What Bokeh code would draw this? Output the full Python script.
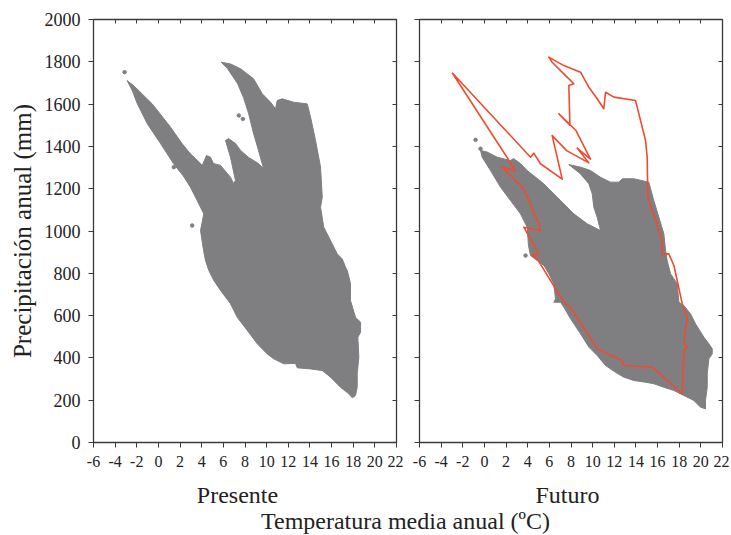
from bokeh.plotting import figure
from bokeh.models import Range1d, LinearAxis, FixedTicker, Title
from bokeh.layouts import row, column
from bokeh.embed import file_html
from bokeh.resources import INLINE

# ---------------- data ----------------
x_ticks = [-6, -4, -2, 0, 2, 4, 6, 8, 10, 12, 14, 16, 18, 20, 22]
x_tick_labels = ["-6", "-4", "-2", "0", "2", "4", "6", "8", "10", "12", "14", "16", "18", "20", "22"]
y_ticks = [0, 200, 400, 600, 800, 1000, 1200, 1400, 1600, 1800, 2000]
y_tick_labels = ["0", "200", "400", "600", "800", "1000", "1200", "1400", "1600", "1800", "2000"]

panel_names = ["Presente", "Futuro"]
x_title = "Temperatura media anual (ºC)"
y_title = "Precipitación anual (mm)"

# present climate envelope (temperature ºC, precipitation mm)
pres_t = [-2.89, -2.30, -0.57, 1.12, 2.20, 2.96, 4.05, 4.44, 4.81, 5.09, 5.74, 6.66, 6.94,
          7.12, 6.66, 6.20, 6.48, 7.12, 7.59, 8.33, 9.25, 9.71,
          9.25, 8.79, 8.33, 7.86, 7.31, 6.38, 5.80,
          6.66, 7.59, 8.79, 9.59, 10.36, 10.82, 10.98, 11.44, 12.48, 13.75,
          14.06, 14.52, 14.98, 15.14, 14.98, 15.28, 16.06, 16.52, 16.99, 17.29, 17.45,
          17.75, 17.75, 18.21, 18.68, 18.68, 18.43, 18.52, 18.37, 18.37, 18.21, 17.91,
          17.60, 16.83, 15.90, 15.14, 14.06, 12.83, 12.67, 11.59, 10.64, 10.05, 9.13,
          8.21, 7.28, 6.66, 5.74, 5.12, 4.66, 4.35, 4.17, 3.89, 4.19, 3.58, 2.96, 2.30,
          1.39, 0.19, -1.04, -1.96, -2.42]
pres_p = [1711, 1688, 1601, 1491, 1412, 1365, 1310, 1357, 1349, 1319, 1310, 1254, 1225,
          1239, 1349, 1428, 1437, 1414, 1381, 1348, 1319, 1296,
          1381, 1461, 1556, 1631, 1697, 1768, 1798,
          1790, 1767, 1720, 1649, 1609, 1578, 1617, 1625, 1609, 1601,
          1538, 1428, 1302, 1160, 1112, 1018, 939, 892, 868, 829, 813,
          752, 671, 592, 569, 521, 498, 403, 325, 261, 222, 211,
          230, 261, 309, 340, 348, 353, 374, 372, 396, 419, 467,
          530, 592, 656, 719, 766, 813, 860, 908, 1002, 1081, 1144, 1207, 1260,
          1319, 1414, 1508, 1603, 1664]
pres_dot_t = [-3.13, 7.43, 7.80, 3.12, 1.42]
pres_dot_p = [1751, 1546, 1530, 1026, 1302]

# future climate envelope
fut_t = [-0.36, 0.26, 1.18, 2.41, 2.69, 3.33, 3.95, 5.49, 7.03, 8.26, 9.50, 10.73,
         10.42, 10.11, 9.96, 9.65, 8.88, 7.80,
         8.88, 9.80, 10.73, 11.65, 12.42, 12.73, 13.81, 15.19,
         15.65, 16.12, 16.58, 16.74, 16.89, 17.20, 17.82, 17.97, 18.43, 19.05, 19.51,
         20.28, 20.74, 21.05, 21.05, 20.74, 20.59, 20.59, 20.43, 20.43,
         19.97, 19.35, 18.43, 17.50, 16.58, 15.65, 14.89, 13.81, 12.88, 12.11, 11.19,
         10.42, 9.65, 8.88, 7.96, 7.34, 7.03, 6.41, 6.57, 6.41, 5.95, 5.49, 4.88, 4.26,
         4.07, 3.95, 3.33, 2.41, 1.49, 0.56, -0.21]
fut_p = [1381, 1373, 1349, 1333, 1343, 1319, 1286, 1223, 1144, 1081, 1034, 1002,
         1065, 1112, 1176, 1223, 1270, 1314,
         1302, 1286, 1254, 1231, 1231, 1247, 1247, 1231,
         1144, 1065, 987, 908, 860, 798, 750, 663, 648, 608, 561,
         498, 467, 443, 419, 396, 325, 261, 199, 159,
         167, 199, 222, 246, 261, 278, 285, 293, 309, 332, 364,
         411, 451, 514, 585, 640, 663, 663, 679, 750, 798, 837, 860, 884,
         931, 1018, 1081, 1144, 1207, 1286, 1349]
fut_dot_t = [-0.82, -0.36, 3.80]
fut_dot_p = [1431, 1389, 884]

# outline of the present envelope drawn over the future panel
red_t = [-2.98, 4.26, 4.56, 5.18, 7.19, 6.26, 7.60, 9.65, 8.57, 9.80, 8.46, 6.88, 7.90,
         7.80, 8.26, 7.34, 6.26, 5.95, 7.34, 8.88, 9.65, 10.42, 11.03, 11.19, 11.96,
         13.96, 14.43, 14.89, 15.04, 15.10, 16.43, 16.43, 17.04, 17.51, 18.28, 18.74,
         18.43, 18.74, 18.43, 18.28, 15.51, 12.88, 12.73, 10.42, 7.96, 7.34, 4.88, 4.42,
         5.03, 3.64, 5.18, 5.03, 3.64, 1.64, 2.87, -2.98]
red_p = [1748, 1349, 1368, 1318, 1245, 1451, 1380, 1322, 1392, 1340, 1475, 1554, 1500,
         1688, 1696, 1743, 1798, 1822, 1782, 1751, 1680, 1625, 1578, 1656, 1633,
         1617, 1522, 1428, 1349, 1160, 955, 892, 892, 837, 656, 592,
         467, 451, 435, 230, 356, 364, 388, 443, 640, 663, 868, 884,
         892, 1018, 1002, 1034, 1199, 1302, 1286, 1748]

# ---------------- styling / layout ----------------
FONT = "Liberation Serif"
GRAY = "#7f7f82"
AX = "#3a3a3a"
TXT = "#222222"
RED = "#f24a2e"

FRAME_W, FRAME_H = 303, 423
TOP, BOTTOM = 19, 34
P1_LEFT, P1_RIGHT = 93, 7
P2_LEFT, P2_RIGHT = 16, 7
P1_W = P1_LEFT + FRAME_W + P1_RIGHT
P2_W = P2_LEFT + FRAME_W + P2_RIGHT
PANEL_H = TOP + FRAME_H + BOTTOM
FOOT_H = 535 - PANEL_H

x_lab = {t: s for t, s in zip(x_ticks, x_tick_labels)}
y_lab = {t: s for t, s in zip(y_ticks, y_tick_labels)}
x_blank = {t: "" for t in x_ticks}
y_blank = {t: "" for t in y_ticks}


def style_ticks(ax, tick_in, tick_out):
    ax.major_tick_in = tick_in
    ax.major_tick_out = tick_out
    ax.minor_tick_line_color = None
    ax.axis_line_color = AX
    ax.major_tick_line_color = AX
    ax.major_tick_line_width = 1
    ax.major_label_text_font = FONT
    ax.major_label_text_color = TXT


def make_panel(left_labels, w, min_left, min_right):
    p = figure(width=w, height=PANEL_H,
               x_range=Range1d(-6, 22), y_range=Range1d(0, 2000),
               output_backend="svg", toolbar_location=None,
               min_border_top=TOP, min_border_bottom=BOTTOM,
               min_border_left=min_left, min_border_right=min_right,
               background_fill_color="white", border_fill_color="white")
    p.grid.visible = False
    p.outline_line_color = AX
    p.outline_line_width = 1.3

    xa = p.xaxis[0]
    xa.ticker = FixedTicker(ticks=x_ticks)
    style_ticks(xa, 0, 5)
    xa.major_label_overrides = x_lab
    xa.major_label_text_font_size = "16px"
    xa.major_label_standoff = 8

    ya = p.yaxis[0]
    ya.ticker = FixedTicker(ticks=y_ticks)
    style_ticks(ya, 0, 5)
    ya.major_label_text_font_size = "18px"
    if left_labels:
        ya.major_label_overrides = y_lab
        ya.major_label_standoff = 8
    else:
        ya.major_label_overrides = y_blank
        ya.major_label_standoff = 0

    top = LinearAxis(ticker=FixedTicker(ticks=x_ticks), major_label_overrides=x_blank,
                     major_label_standoff=0, major_label_text_font_size="15px")
    style_ticks(top, 4, 0)
    right = LinearAxis(ticker=FixedTicker(ticks=y_ticks), major_label_overrides=y_blank,
                       major_label_standoff=0, major_label_text_font_size="15px")
    style_ticks(right, 4, 0)
    p.add_layout(top, "above")
    p.add_layout(right, "right")
    return p


p1 = make_panel(True, P1_W, P1_LEFT, P1_RIGHT)
p1.add_layout(Title(text=y_title, align="center", offset=20, standoff=12,
                    text_font=FONT, text_font_size="25px", text_font_style="normal",
                    text_color=TXT), "left")
p1.patch(pres_t, pres_p, fill_color=GRAY, line_color=GRAY, line_width=1)
p1.scatter(pres_dot_t, pres_dot_p, size=3.5, color=GRAY)

p2 = make_panel(False, P2_W, P2_LEFT, P2_RIGHT)
p2.patch(fut_t, fut_p, fill_color=GRAY, line_color=GRAY, line_width=1)
p2.scatter(fut_dot_t, fut_dot_p, size=3.5, color=GRAY)
p2.line(red_t, red_p, line_color=RED, line_width=1.6, line_join="round")

# footer with the panel names and the shared x-axis title (pixel-unit canvas)
FOOT_W = P1_W + P2_W
p3 = figure(width=FOOT_W, height=FOOT_H, output_backend="svg", toolbar_location=None,
            x_range=Range1d(0, FOOT_W), y_range=Range1d(0, FOOT_H),
            x_axis_location=None, y_axis_location=None, min_border=0,
            outline_line_color=None)
p3.grid.visible = False
p3.text(x=[237, 567], y=[FOOT_H - 18, FOOT_H - 18], text=panel_names,
        text_font=FONT, text_font_size="24px", text_align="center",
        text_baseline="alphabetic", text_color=TXT)
p3.text(x=[405], y=[15], text=[x_title], text_font=FONT, text_font_size="24px",
        text_align="center", text_baseline="alphabetic", text_color=TXT)

layout = column(row(p1, p2), p3)
open("out.html", "w").write(file_html(layout, INLINE, "Temperatura y precipitación"))
